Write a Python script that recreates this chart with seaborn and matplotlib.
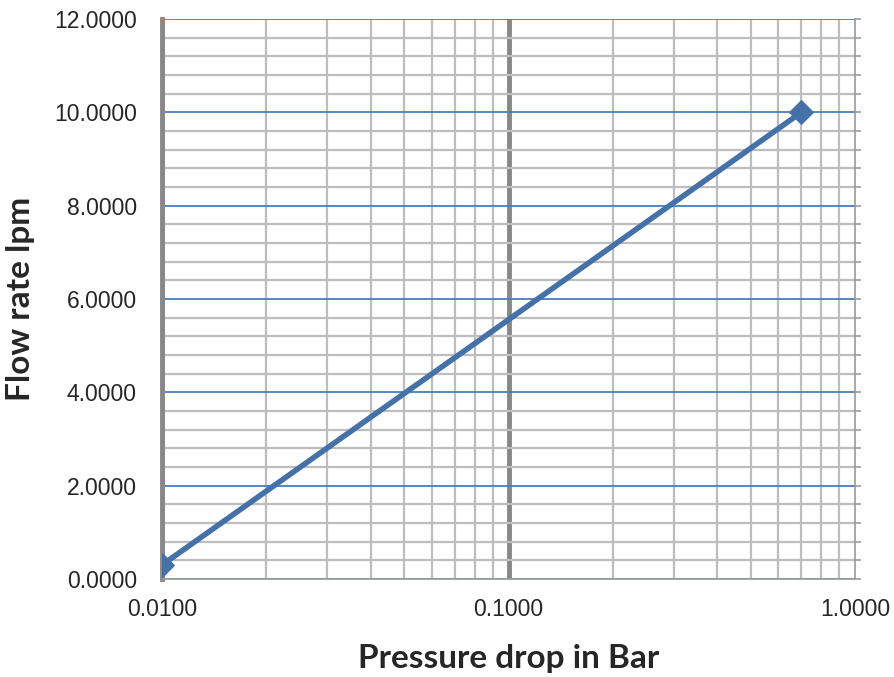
import numpy as np
import pandas as pd
import matplotlib
matplotlib.use("Agg")
import matplotlib.pyplot as plt
import seaborn as sns
from matplotlib.ticker import FixedLocator, FormatStrFormatter, NullFormatter

# data
pressure_drop = [0.01, 0.70]
flow_rate = [0.3, 10.0]
x_major = [0.01, 0.1, 1.0]
y_major = [0, 2, 4, 6, 8, 10, 12]

df = pd.DataFrame({"pressure": pressure_drop, "flow": flow_rate})

sns.set_style("white")
plt.rcParams["font.family"] = ["Liberation Sans", "DejaVu Sans"]

fig = plt.figure(figsize=(8.94, 6.77), dpi=100)
ax = fig.add_axes([0.1812, 0.1448, 0.7752, 0.8271])

line_col = "#4472A8"
sns.lineplot(data=df, x="pressure", y="flow", ax=ax, color=line_col,
             linewidth=4, marker="D", markersize=12.5, markeredgecolor=line_col,
             zorder=5)

ax.set_xscale("log")
ax.set_xlim(0.01, 1.0)
ax.set_ylim(0, 12)

x_minor = [m * d for d in [0.01, 0.1] for m in range(2, 10)]
ax.xaxis.set_major_locator(FixedLocator(x_major))
ax.xaxis.set_minor_locator(FixedLocator(x_minor))
ax.xaxis.set_major_formatter(FormatStrFormatter("%.4f"))
ax.xaxis.set_minor_formatter(NullFormatter())
ax.yaxis.set_major_locator(FixedLocator(y_major))
ax.yaxis.set_minor_locator(FixedLocator(np.arange(0, 12.01, 0.4)))
ax.yaxis.set_major_formatter(FormatStrFormatter("%.4f"))

# grid lines, Excel-style
ax.grid(which="minor", axis="both", color="#BDBDBD", linewidth=1.6, zorder=0)
ax.grid(which="major", axis="y", color="#4A7EBB", linewidth=1.3, zorder=1)
ax.grid(which="major", axis="x", color="#888888", linewidth=3.5, zorder=1)
ax.set_axisbelow(True)
# no thick gridline at the right end (1.0)
ax.get_xgridlines()[-1].set_visible(False)

ax.spines["top"].set_visible(False)
ax.spines["left"].set_color("#888888")
ax.spines["left"].set_linewidth(3.5)
ax.spines["bottom"].set_color("#9A9A9A")
ax.spines["bottom"].set_linewidth(1.2)
ax.spines["right"].set_color("#9A9A9A")
ax.spines["right"].set_linewidth(1.2)

ax.tick_params(axis="x", which="both", direction="out", length=5, width=1.2,
               color="#9A9A9A", labelsize=16.5, pad=9)
ax.tick_params(axis="y", which="both", left=False, right=True, direction="out",
               length=4, width=1.2, color="#9A9A9A", labelsize=16.5, pad=14,
               labelright=False, labelleft=True)

ax.set_xlabel("Pressure drop in Bar", fontsize=24, fontweight="bold",
              family=["Lato", "DejaVu Sans"], labelpad=16)
ax.set_ylabel("Flow rate lpm", fontsize=24, fontweight="bold",
              family=["Lato", "DejaVu Sans"], labelpad=14)

fig.savefig("out.png", dpi=100)
